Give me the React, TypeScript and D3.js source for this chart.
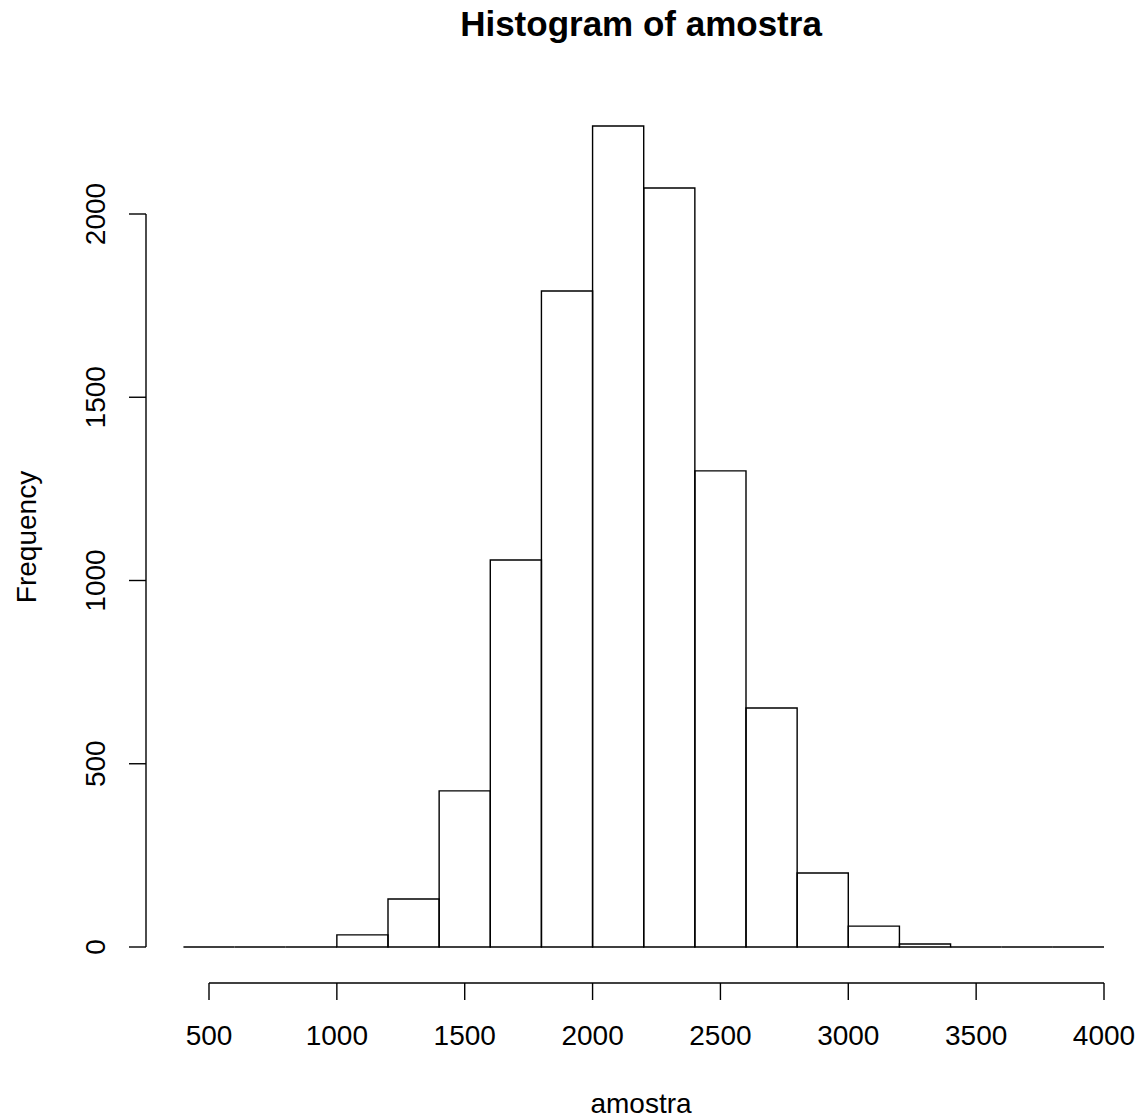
import * as d3 from 'd3';

// bin edges (left side) and counts
const binStarts = [400, 600, 800, 1000, 1200, 1400, 1600, 1800, 2000, 2200, 2400, 2600, 2800, 3000, 3200, 3400, 3600, 3800];
const binWidth = 200;
const counts = [0, 0, 0, 33, 131, 426, 1056, 1790, 2240, 2071, 1299, 652, 202, 57, 8, 0, 0, 0];
const xTicks = [500, 1000, 1500, 2000, 2500, 3000, 3500, 4000];
const yTicks = [0, 500, 1000, 1500, 2000];

const W = 1142;
const H = 1120;
const font = "'Liberation Sans', Arial, sans-serif";

export default function App() {
  const x = d3.scaleLinear().domain([500, 4000]).range([209, 1104]);
  const y = d3.scaleLinear().domain([0, 2000]).range([947, 214]);

  const axisY = 983;
  const axisX = 146;
  const tick = 17;

  // outline of each bin, so empty bins still show as a flat line like R does
  const barPath = (b: number, c: number) => {
    const p = d3.path();
    p.moveTo(x(b), y(0));
    p.lineTo(x(b), y(c));
    p.lineTo(x(b + binWidth), y(c));
    p.lineTo(x(b + binWidth), y(0));
    p.closePath();
    return p.toString();
  };

  return (
    <svg width={W} height={H} style={{ position: 'absolute', left: 0, top: 0, background: '#fff' }}>
      <text x={641} y={36} textAnchor="middle" fontFamily={font} fontWeight="bold" fontSize={35}>
        Histogram of amostra
      </text>

      {binStarts.map((b, i) => (
        <path key={b} d={barPath(b, counts[i])} fill="none" stroke="#000" strokeWidth={1.4} />
      ))}

      {/* x axis */}
      <line x1={x(xTicks[0])} x2={x(xTicks[xTicks.length - 1])} y1={axisY} y2={axisY} stroke="#000" strokeWidth={1.4} />
      {xTicks.map(t => (
        <g key={t}>
          <line x1={x(t)} x2={x(t)} y1={axisY} y2={axisY + tick} stroke="#000" strokeWidth={1.4} />
          <text x={x(t)} y={1045} textAnchor="middle" fontFamily={font} fontSize={28}>{t}</text>
        </g>
      ))}

      {/* y axis */}
      <line x1={axisX} x2={axisX} y1={y(0)} y2={y(2000)} stroke="#000" strokeWidth={1.4} />
      {yTicks.map(t => (
        <g key={t}>
          <line x1={axisX - tick} x2={axisX} y1={y(t)} y2={y(t)} stroke="#000" strokeWidth={1.4} />
          <text
            transform={`translate(105,${y(t)}) rotate(-90)`}
            textAnchor="middle"
            fontFamily={font}
            fontSize={28}
          >
            {t}
          </text>
        </g>
      ))}

      <text x={641} y={1113} textAnchor="middle" fontFamily={font} fontSize={28}>amostra</text>
      <text transform={`translate(36,537) rotate(-90)`} textAnchor="middle" fontFamily={font} fontSize={28}>
        Frequency
      </text>
    </svg>
  );
}
